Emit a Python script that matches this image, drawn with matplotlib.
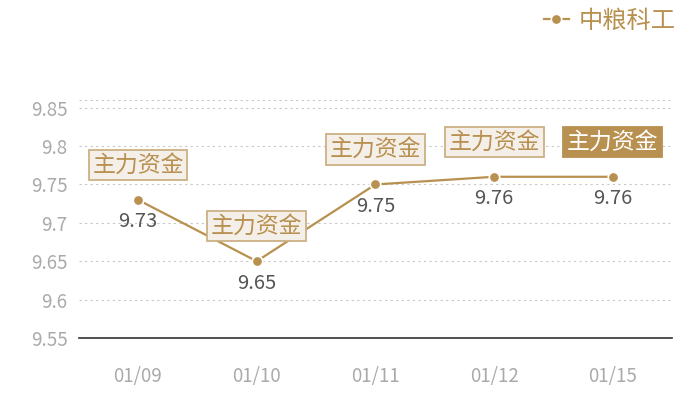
import matplotlib
matplotlib.use('Agg')
import matplotlib.pyplot as plt

plt.rcParams['font.family'] = ['Noto Sans CJK SC', 'DejaVu Sans']

dates = ['01/09', '01/10', '01/11', '01/12', '01/15']
prices = [9.73, 9.65, 9.75, 9.76, 9.76]
yticks = [9.55, 9.6, 9.65, 9.7, 9.75, 9.8, 9.85]
tag = '主力资金'
series_name = '中粮科工'

gold = '#b8904f'

fig = plt.figure(figsize=(7, 4), dpi=100)
ax = fig.add_axes([0.1123, 0.155, 0.848, 0.595])

x = list(range(len(dates)))
ax.plot(x, prices, color=gold, lw=1.6, marker='o', ms=7.5,
        mec='white', mew=1.2, label=series_name, zorder=2)

for i, v in enumerate(prices):
    ax.annotate(f'{v:g}', (i, v), xytext=(0, -22), textcoords='offset pixels',
                ha='center', va='center', fontsize=14.5, color='#555555')
    last = i == len(prices) - 1
    ax.annotate(tag, (i, v), xytext=(0, 35), textcoords='offset pixels',
                ha='center', va='center', fontsize=16.5,
                color='white' if last else gold, zorder=5,
                bbox=dict(boxstyle='square,pad=0.16',
                          fc=gold if last else '#f4efe8',
                          ec=gold if last else '#cdb085', lw=1.3))

ax.set_xlim(-0.5, len(dates) - 0.5)
ax.set_ylim(9.55, 9.86)
ax.set_xticks(x)
ax.set_xticklabels(dates)
ax.set_yticks(yticks)
ax.set_yticklabels([f'{t:g}' for t in yticks])
ax.tick_params(length=0, colors='#aaaaaa', labelsize=13.5)
ax.tick_params(axis='x', pad=20)
ax.tick_params(axis='y', pad=8)

ax.grid(axis='y', ls=(0, (2, 3)), color='#c8c8c8', lw=0.8)
ax.axhline(9.86, ls=(0, (2, 3)), color='#c8c8c8', lw=0.8)
for s in ['top', 'right', 'left']:
    ax.spines[s].set_visible(False)
ax.spines['bottom'].set_color('#333333')
ax.spines['bottom'].set_linewidth(1.2)

leg = fig.legend(loc='upper right', bbox_to_anchor=(0.996, 1.035), frameon=False,
                 fontsize=17.5, handlelength=1.0, handletextpad=0.4)
for t in leg.get_texts():
    t.set_color(gold)

fig.savefig('out.png', dpi=100)
